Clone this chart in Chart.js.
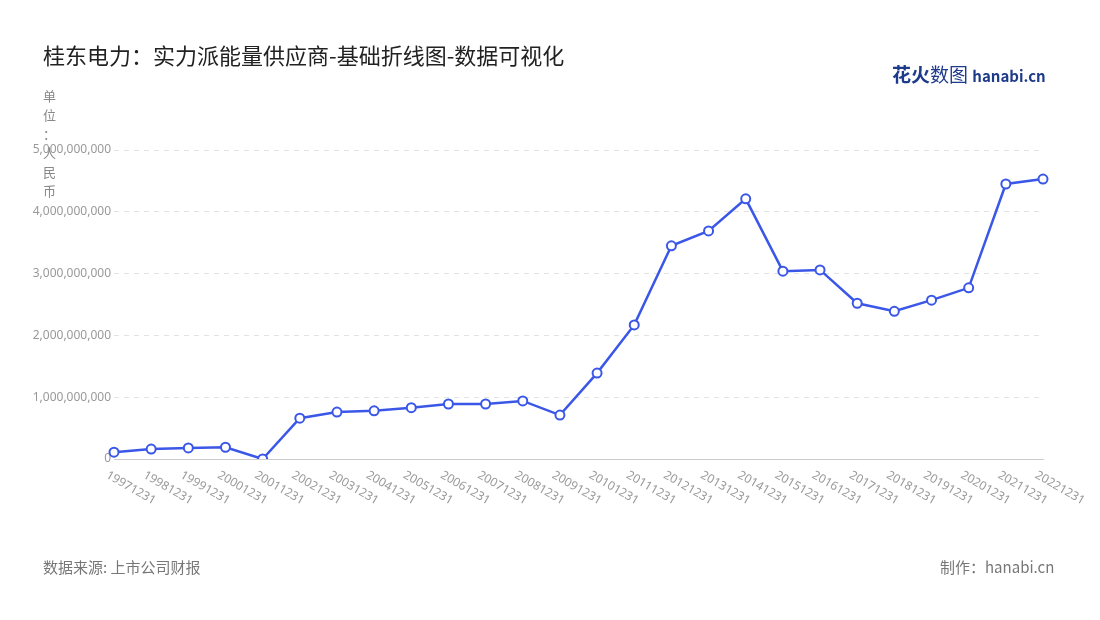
<!DOCTYPE html>
<html><head><meta charset="utf-8">
<script src="https://cdn.jsdelivr.net/npm/chart.js@4/dist/chart.umd.min.js"></script>
<style>
body{margin:0;background:#fff;font-family:"Noto Sans CJK SC","Noto Sans",sans-serif}
#wrap{position:relative;width:1100px;height:620px}
.t{position:absolute;white-space:nowrap}
</style></head><body>
<div id="wrap">
<canvas id="c" width="1100" height="620"></canvas>
<div class="t" style="left:43px;top:38px;font-size:22px;color:#222">桂东电力：实力派能量供应商-基础折线图-数据可视化</div>
<div class="t" style="left:892px;top:60px;font-size:19px;font-weight:bold;color:#1e3a8a">花火<span style="font-weight:normal">数图</span> <span style="font-size:15px">hanabi.cn</span></div>
<div class="t" style="left:43px;top:86px;font-size:13px;color:#888;line-height:19px;width:13px;white-space:normal">单<br>位<br>：<br>人<br>民<br>币</div>
<div class="t" style="left:43px;top:556px;font-size:15px;color:#777">数据来源: 上市公司财报</div>
<div class="t" style="left:940px;top:556px;font-size:15px;color:#777">制作：hanabi.cn</div>
</div>
<script>
// data
const years = ["19971231","19981231","19991231","20001231","20011231","20021231","20031231","20041231","20051231","20061231","20071231","20081231","20091231","20101231","20111231","20121231","20131231","20141231","20151231","20161231","20171231","20181231","20191231","20201231","20211231","20221231"];
const values = [0.11e9,0.16e9,0.18e9,0.19e9,0.0e9,0.66e9,0.76e9,0.78e9,0.83e9,0.89e9,0.89e9,0.94e9,0.71e9,1.39e9,2.17e9,3.45e9,3.69e9,4.21e9,3.04e9,3.06e9,2.52e9,2.39e9,2.57e9,2.77e9,4.45e9,4.53e9];

// rotated x labels drawn from the x scale
const xLabels = {
  id: "xLabels",
  afterDraw(chart) {
    const ctx = chart.ctx, sx = chart.scales.x, y0 = chart.chartArea.bottom;
    ctx.save();
    ctx.font = "12px 'Noto Sans'";
    ctx.fillStyle = "#999";
    ctx.textAlign = "left";
    ctx.textBaseline = "top";
    years.forEach((lab, i) => {
      ctx.save();
      ctx.translate(sx.getPixelForTick(i) - 4, y0 + 10);
      ctx.rotate(Math.PI / 6);
      ctx.fillText(lab, 0, 0);
      ctx.restore();
    });
    ctx.restore();
  }
};

new Chart(document.getElementById("c"), {
  type: "line",
  data: {
    labels: years,
    datasets: [{
      data: values,
      borderColor: "#3b57e8",
      borderWidth: 2.5,
      backgroundColor: "#fff",
      pointRadius: 4.5,
      pointBorderWidth: 2,
      pointBorderColor: "#3b57e8",
      tension: 0
    }]
  },
  options: {
    responsive: false,
    animation: false,
    layout: { padding: { top: 150, right: 57 } },
    plugins: { legend: { display: false }, tooltip: { enabled: false } },
    scales: {
      x: {
        offset: false,
        grid: { display: false },
        border: { color: "#ccc" },
        ticks: { display: false },
        afterFit(s) { s.height = 161; }
      },
      y: {
        min: 0, max: 5e9,
        ticks: { stepSize: 1e9, color: "#999", font: { size: 12, family: "Noto Sans" },
          callback: v => v.toLocaleString("en-US") },
        grid: { color: "#e2e2e2", drawTicks: false },
        border: { display: false, dash: [5, 5] },
        afterFit(s) { s.width = 114; }
      }
    }
  },
  plugins: [xLabels]
});
</script>
</body></html>
